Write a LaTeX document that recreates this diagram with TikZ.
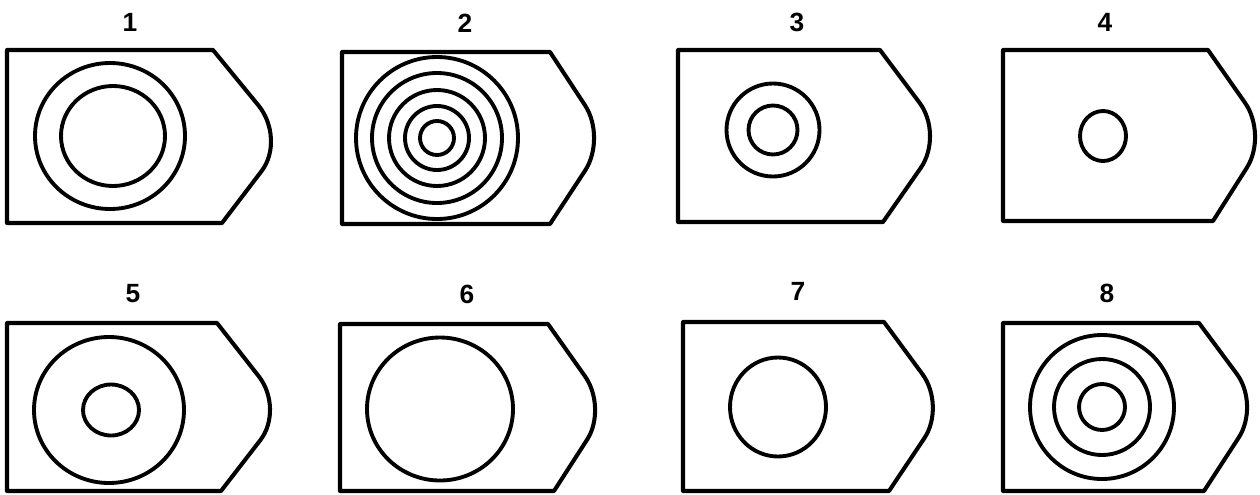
\documentclass[tikz,border=0pt]{standalone}
\usepackage{fontspec}
\setmainfont{Liberation Sans}
\usetikzlibrary{calc}
\tikzset{
  frame/.style={line width=2.3pt, line join=round},
  ring/.style={line width=2.2pt},
  lab/.style={font=\fontsize{15}{17}\selectfont\bfseries, inner sep=0pt},
}
% #1 left x, #2 top y, #3 bottom y, #4 top-right x, #5 bottom-right x, #6/#7 tip vertex
\newcommand{\tagoutline}[7]{%
  \draw[frame] (#1,#2) -- (#4,#2) -- ($(#6,#7)!0.38!(#4,#2)$)
    .. controls ($(#6,#7)!0.167!(#4,#2)$) and ($(#6,#7)!0.167!(#5,#3)$) ..
    ($(#6,#7)!0.38!(#5,#3)$) -- (#5,#3) -- (#1,#3) -- cycle;}
\begin{document}
\begin{tikzpicture}[x=0.02cm,y=-0.02cm]
\useasboundingbox (0,0) rectangle (1260,494);
\fill[white] (0,0) rectangle (1260,494);

% labels
\node[lab] (l1) at (130,22) {1};
\node[lab] (l2) at (465,23) {2};
\node[lab] (l3) at (797,22) {3};
\node[lab] (l4) at (1105,22) {4};
\node[lab] (l5) at (133,294) {5};
\node[lab] (l6) at (467,294) {6};
\node[lab] (l7) at (798,291) {7};
\node[lab] (l8) at (1107,293) {8};

% row 1 outlines
\tagoutline{7}{50}{223}{213}{222}{286}{139}
\tagoutline{342}{52}{224}{550}{550}{606.5}{138}
\tagoutline{678}{50}{222}{880}{883}{943.7}{135}
\tagoutline{1003}{50}{221}{1208}{1213}{1267.6}{135}
% row 2 outlines
\tagoutline{7}{323}{491}{217}{221}{284.4}{409}
\tagoutline{340}{324}{491}{548}{554}{607.5}{408}
\tagoutline{683}{322}{491}{884}{889}{945.9}{406}
\tagoutline{1003}{323}{491}{1199}{1204}{1259.9}{405}

% 1
\draw[ring] (110,136) ellipse [x radius=75, y radius=73];
\draw[ring] (113,136) ellipse [x radius=52, y radius=50];
% 2
\foreach \r in {81,65,48,32,17}
  \draw[ring] (437,138) circle [radius=\r];
% 3
\draw[ring] (773,130) circle [radius=46.5];
\draw[ring] (773,130) circle [radius=24.5];
% 4
\draw[ring] (1103,136) ellipse [x radius=23, y radius=25];
% 5
\draw[ring] (109,410) ellipse [x radius=75, y radius=73];
\draw[ring] (111,410) ellipse [x radius=28, y radius=25.5];
% 6
\draw[ring] (440,409) ellipse [x radius=73, y radius=71.5];
% 7
\draw[ring] (778,407) ellipse [x radius=48, y radius=49.5];
% 8
\draw[ring] (1102,407) circle [radius=72];
\draw[ring] (1102,407) circle [radius=48];
\draw[ring] (1102,407) circle [radius=23];
\end{tikzpicture}
\end{document}
